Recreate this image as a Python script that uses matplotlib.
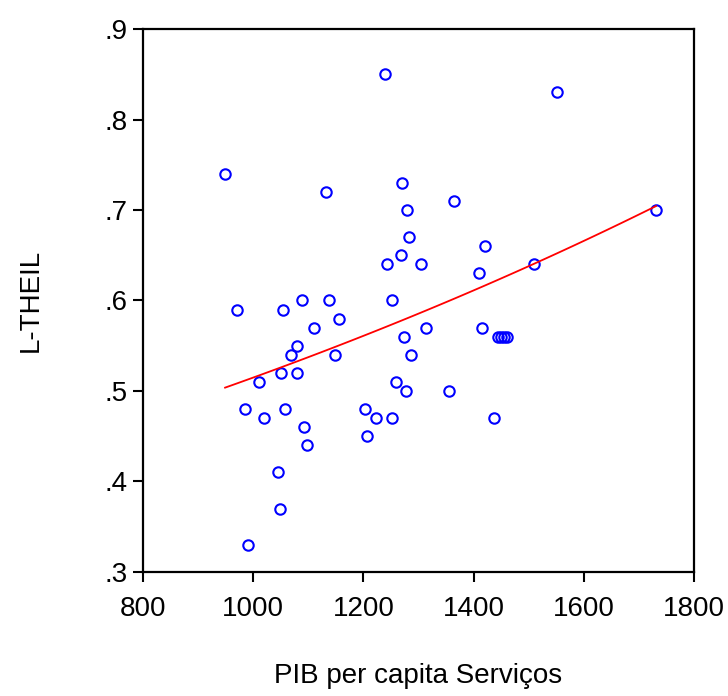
import numpy as np
import matplotlib.pyplot as plt
from matplotlib.ticker import FuncFormatter

# PIB per capita Serviços vs L-THEIL
pib = [949, 970, 985, 990, 1010, 1020, 1045, 1048, 1050, 1055,
       1057, 1068, 1080, 1080, 1088, 1093, 1097, 1110, 1133, 1138,
       1148, 1155, 1203, 1207, 1222, 1240, 1243, 1252, 1252, 1260,
       1268, 1270, 1273, 1277, 1280, 1283, 1287, 1305, 1313, 1355,
       1365, 1410, 1415, 1420, 1437, 1445, 1450, 1455, 1460, 1510,
       1552, 1731]
ltheil = [0.74, 0.59, 0.48, 0.33, 0.51, 0.47, 0.41, 0.37, 0.52, 0.59,
          0.48, 0.54, 0.55, 0.52, 0.60, 0.46, 0.44, 0.57, 0.72, 0.60,
          0.54, 0.58, 0.48, 0.45, 0.47, 0.85, 0.64, 0.60, 0.47, 0.51,
          0.65, 0.73, 0.56, 0.50, 0.70, 0.67, 0.54, 0.64, 0.57, 0.50,
          0.71, 0.63, 0.57, 0.66, 0.47, 0.56, 0.56, 0.56, 0.56, 0.64,
          0.83, 0.70]

x = np.array(pib, dtype=float)
y = np.array(ltheil)

# exponential fit y = exp(a + b*x), least squares on y (a few Gauss-Newton steps)
b, a = np.polyfit(x, np.log(y), 1, w=y)
for i in range(20):
    f = np.exp(a + b * x)
    J = np.column_stack([f, f * x])
    step = np.linalg.lstsq(J, y - f, rcond=None)[0]
    a, b = a + step[0], b + step[1]
xs = np.linspace(x.min(), x.max(), 100)
ys = np.exp(a + b * xs)

plt.rcParams['font.family'] = ['Liberation Sans', 'DejaVu Sans']

fig = plt.figure(figsize=(7.28, 6.96), dpi=100)
ax = fig.add_axes([0.1964, 0.1782, 0.7569, 0.7801])

ax.plot(x, y, 'o', mfc='none', mec='#0000ff', ms=7.5, mew=1.5)
ax.plot(xs, ys, color='#ff0000', lw=1.3)

ax.set_xlim(800, 1800)
ax.set_ylim(0.3, 0.9)
ax.set_xticks(np.arange(800, 1801, 200))
ax.set_yticks(np.arange(0.3, 0.91, 0.1))
ax.yaxis.set_major_formatter(FuncFormatter(lambda v, p: ('%.1f' % v).lstrip('0')))

ax.tick_params(direction='out', length=7, width=1.5, labelsize=20)
ax.tick_params(axis='x', pad=10)
ax.tick_params(axis='y', pad=4)
for s in ax.spines.values():
    s.set_linewidth(1.6)

ax.set_xlabel('PIB per capita Serviços', fontsize=20, labelpad=30)
ax.set_ylabel('L-THEIL', fontsize=20, labelpad=44)

plt.savefig('out.png', dpi=100)
